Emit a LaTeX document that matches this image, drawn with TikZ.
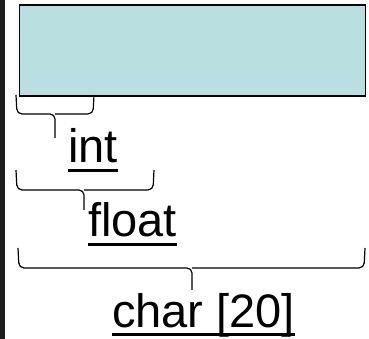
\documentclass[tikz,border=0pt]{standalone}
\usepackage{fontspec}
\setmainfont{Liberation Sans}
\definecolor{boxfill}{RGB}{186,223,225}
\definecolor{strip}{RGB}{30,30,30}
\begin{document}
\begin{tikzpicture}[x=1pt,y=1pt,
  lbl/.style={inner sep=0pt,anchor=base west,font=\fontsize{47}{50}\selectfont},
  ul/.style={line width=3pt},
  brc/.style={line width=1.2pt,rounded corners=5pt}]
\useasboundingbox (0,0) rectangle (369,339);
\fill[strip] (0,0) rectangle (5,339);
\node[draw=black,line width=1.5pt,fill=boxfill,minimum width=346pt,minimum height=91pt,inner sep=0pt,anchor=north west] (mem) at (18.5,334.5) {};
% int
\coordinate (i1) at (16,244); \coordinate (i2) at (94,244); \coordinate (itip) at (55,201);
\draw[brc] (i1) -- (17,225) -- (55,225) -- (itip);
\draw[brc] (i2) -- (93,225) -- (55,225);
\node[lbl] (int) at (68,176) {int};
\draw[ul] ([yshift=-8pt]int.base west) -- ([yshift=-8pt]int.base east);
% float
\coordinate (f1) at (16,169); \coordinate (f2) at (154,169); \coordinate (ftip) at (84,129);
\draw[brc] (f1) -- (17,149) -- (84,149) -- (ftip);
\draw[brc] (f2) -- (153,149) -- (84,149);
\node[lbl] (float) at (88,102) {float};
\draw[ul] ([yshift=-8pt]float.base west) -- ([yshift=-8pt]float.base east);
% char
\coordinate (c1) at (18,91); \coordinate (c2) at (365,91); \coordinate (ctip) at (192,49);
\draw[brc] (c1) -- (19,71) -- (192,71) -- (ctip);
\draw[brc] (c2) -- (364,71) -- (192,71);
\node[lbl] (char) at (112,11) {char [20]};
\draw[ul] ([yshift=-7pt]char.base west) -- ([yshift=-7pt]char.base east);
\end{tikzpicture}
\end{document}
